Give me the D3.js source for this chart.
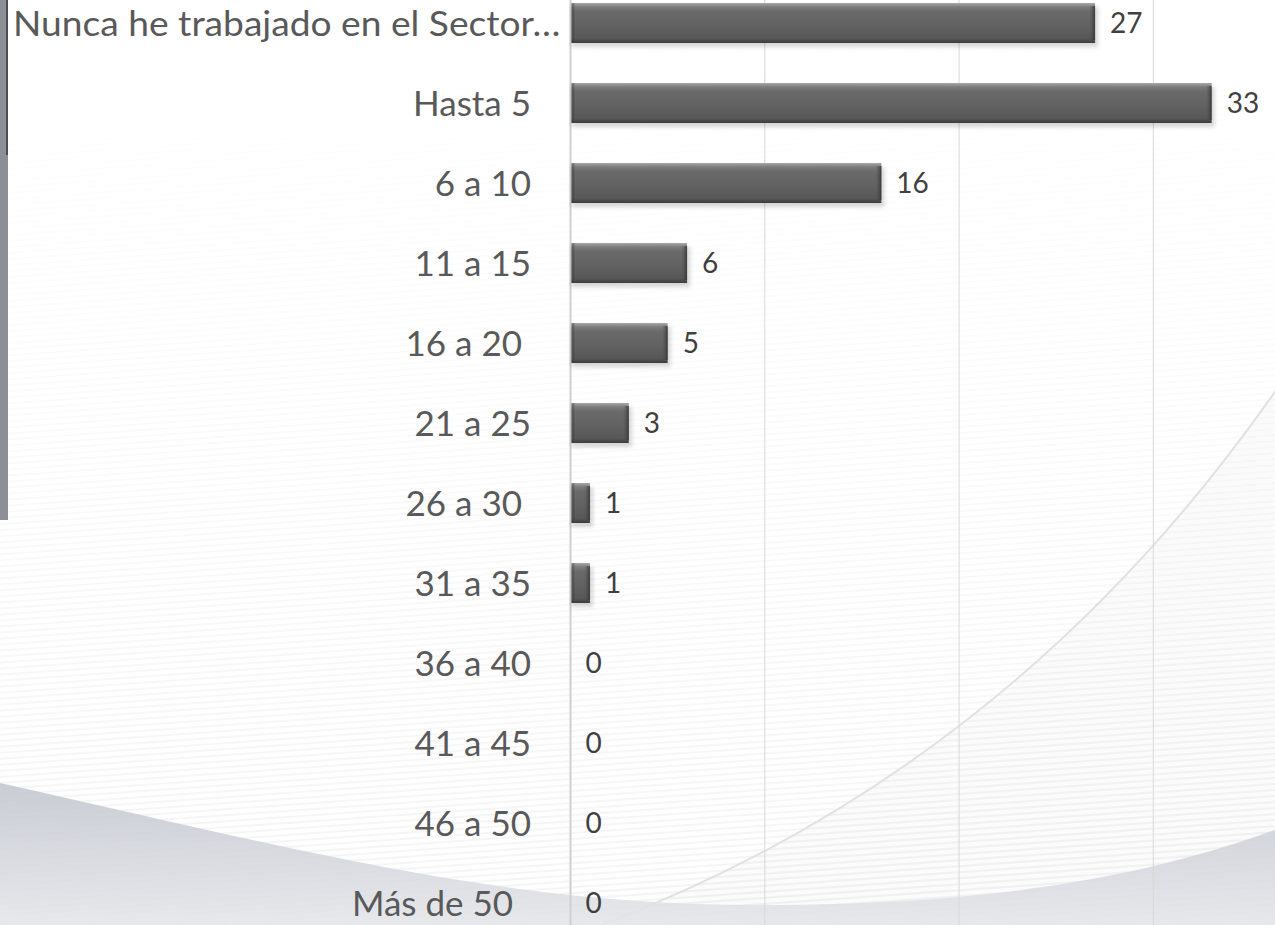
<!DOCTYPE html>
<html>
<head>
<meta charset="utf-8">
<script src="https://cdn.jsdelivr.net/npm/d3@7"></script>
<style>
  html, body { margin: 0; padding: 0; background: #fff; overflow: hidden; }
  svg { display: block; }
  text { white-space: pre; }
</style>
</head>
<body>
<svg id="chart" width="1275" height="925"></svg>
<script>
// ---- data ----
const categories = ["Nunca he trabajado en el Sector…", "Hasta 5", "6 a 10", "11 a 15", "16 a 20 ", "21 a 25",
  "26 a 30 ", "31 a 35", "36 a 40", "41 a 45", "46 a 50", "Más de 50  "];
const values = [27, 33, 16, 6, 5, 3, 1, 1, 0, 0, 0, 0];
const gridTicks = [0, 10, 20, 30];

const W = 1275, H = 925;
const svg = d3.select("#chart");
const defs = svg.append("defs");

// ---- background decoration ----
const bgGrad = defs.append("linearGradient").attr("id", "bandGrad").attr("x1", 0).attr("y1", 0).attr("x2", 0).attr("y2", 1);
bgGrad.append("stop").attr("offset", "0%").attr("stop-color", "#c3c7cf");
bgGrad.append("stop").attr("offset", "100%").attr("stop-color", "#e4e6ea");

const pat = defs.append("pattern").attr("id", "stripes").attr("width", 14).attr("height", 6)
  .attr("patternUnits", "userSpaceOnUse").attr("patternTransform", "rotate(-4)");
pat.append("rect").attr("width", 14).attr("height", 2).attr("fill", "#000").attr("opacity", 0.045);

const fadeGrad = defs.append("linearGradient").attr("id", "fadeGrad").attr("x1", 0).attr("y1", 0).attr("x2", 0).attr("y2", 1);
fadeGrad.append("stop").attr("offset", "0%").attr("stop-color", "#fff").attr("stop-opacity", 0);
fadeGrad.append("stop").attr("offset", "40%").attr("stop-color", "#fff").attr("stop-opacity", 0.35);
fadeGrad.append("stop").attr("offset", "100%").attr("stop-color", "#fff").attr("stop-opacity", 1);
const mask = defs.append("mask").attr("id", "fadeMask");
mask.append("rect").attr("width", W).attr("height", H).attr("fill", "url(#fadeGrad)");

const bg = svg.append("g");
bg.append("rect").attr("width", W).attr("height", H).attr("fill", "#ffffff");
bg.append("rect").attr("width", W).attr("height", H).attr("fill", "url(#stripes)").attr("mask", "url(#fadeMask)");
// arc shading (outside of the big circle)
bg.append("path")
  .attr("d", "M560,940 C820,850 1080,680 1290,370 L1290,940 Z")
  .attr("fill", "#000").attr("opacity", 0.015);
bg.append("path")
  .attr("d", "M560,940 C820,850 1080,680 1290,370")
  .attr("fill", "none").attr("stroke", "#e0e1e4").attr("stroke-width", 2);
// bottom swoosh band
bg.append("path")
  .attr("d", "M0,783 C300,850 500,905 760,905 C1000,905 1150,875 1275,830 L1275,925 L0,925 Z")
  .attr("fill", "url(#bandGrad)").attr("opacity", 0.9);
// left frame strip
bg.append("rect").attr("x", 0).attr("y", 0).attr("width", 8).attr("height", 520).attr("fill", "#8c9096");
bg.append("rect").attr("x", 6).attr("y", 0).attr("width", 2).attr("height", 155).attr("fill", "#4a4d52");

// ---- scales ----
const x = d3.scaleLinear().domain([0, 35]).range([570.5, 1250.5]);
const y = d3.scaleBand().domain(categories).range([-17, 943]).paddingInner(0.5).paddingOuter(0.25);

// ---- gridlines ----
svg.append("g").selectAll("line").data(gridTicks).join("line")
  .attr("x1", d => x(d)).attr("x2", d => x(d))
  .attr("y1", 0).attr("y2", H)
  .attr("stroke", d => d === 0 ? "#cfcfcf" : "#d9d9d9")
  .attr("stroke-width", d => d === 0 ? 2 : 1);

// ---- bar styles ----
const barGrad = defs.append("linearGradient").attr("id", "barGrad").attr("x1", 0).attr("y1", 0).attr("x2", 0).attr("y2", 1);
[["0%", "#a8a8a8"], ["10%", "#7c7c7c"], ["22%", "#6a6a6a"], ["60%", "#616161"], ["88%", "#575757"], ["100%", "#3c3c3c"]]
  .forEach(([o, c]) => barGrad.append("stop").attr("offset", o).attr("stop-color", c));
const endGrad = defs.append("linearGradient").attr("id", "endGrad").attr("x1", 0).attr("y1", 0).attr("x2", 1).attr("y2", 0);
endGrad.append("stop").attr("offset", "0%").attr("stop-color", "#555").attr("stop-opacity", 0);
endGrad.append("stop").attr("offset", "100%").attr("stop-color", "#2e2e2e").attr("stop-opacity", 0.8);
const shadowF = defs.append("filter").attr("id", "shadow").attr("x", "-10%").attr("y", "-50%").attr("width", "120%").attr("height", "200%");
shadowF.append("feGaussianBlur").attr("stdDeviation", 2);

const rows = categories.map((c, i) => ({ c, v: values[i] }));
const bars = svg.append("g").selectAll("g").data(rows.filter(d => d.v > 0)).join("g");
bars.append("rect")
  .attr("x", d => x(0) + 1).attr("y", d => y(d.c) + 4)
  .attr("width", d => x(d.v) - x(0) + 2).attr("height", y.bandwidth())
  .attr("fill", "#000").attr("opacity", 0.16).attr("filter", "url(#shadow)");
bars.append("rect")
  .attr("x", d => x(0) + 1).attr("y", d => y(d.c))
  .attr("width", d => x(d.v) - x(0) - 1).attr("height", y.bandwidth())
  .attr("fill", "url(#barGrad)");
bars.append("rect")
  .attr("x", d => x(d.v) - 6).attr("y", d => y(d.c) + 3)
  .attr("width", 6).attr("height", y.bandwidth() - 6)
  .attr("fill", "url(#endGrad)");
bars.append("rect")
  .attr("x", d => x(0) + 1).attr("y", d => y(d.c))
  .attr("width", 3).attr("height", y.bandwidth())
  .attr("fill", "#3a3a3a").attr("opacity", 0.35);

// ---- category labels ----
const labelFont = "Lato, 'Open Sans', sans-serif";
const labelEnd = 531, leftMargin = 13;
const labels = svg.append("g").selectAll("text").data(rows).join("text")
  .attr("x", labelEnd)
  .attr("y", d => y(d.c) + y.bandwidth() / 2)
  .attr("dy", "0.36em")
  .attr("text-anchor", "end")
  .attr("font-family", labelFont)
  .attr("font-size", 35)
  .attr("fill", "#595959")
  .text(d => d.c);
// a truncated label fills all the room from the left margin up to the bars
labels.each(function () {
  const w = this.getComputedTextLength();
  if (labelEnd - w < leftMargin + 10) {
    d3.select(this).attr("text-anchor", "start").attr("x", leftMargin)
      .attr("textLength", x(0) - 10 - leftMargin).attr("lengthAdjust", "spacingAndGlyphs");
  }
});

// ---- value labels ----
svg.append("g").selectAll("text").data(rows).join("text")
  .attr("x", d => x(d.v) + 15)
  .attr("y", d => y(d.c) + y.bandwidth() / 2)
  .attr("dy", "0.36em")
  .attr("font-family", labelFont)
  .attr("font-size", 28)
  .attr("fill", "#404040")
  .text(d => d.v);
</script>
</body>
</html>
